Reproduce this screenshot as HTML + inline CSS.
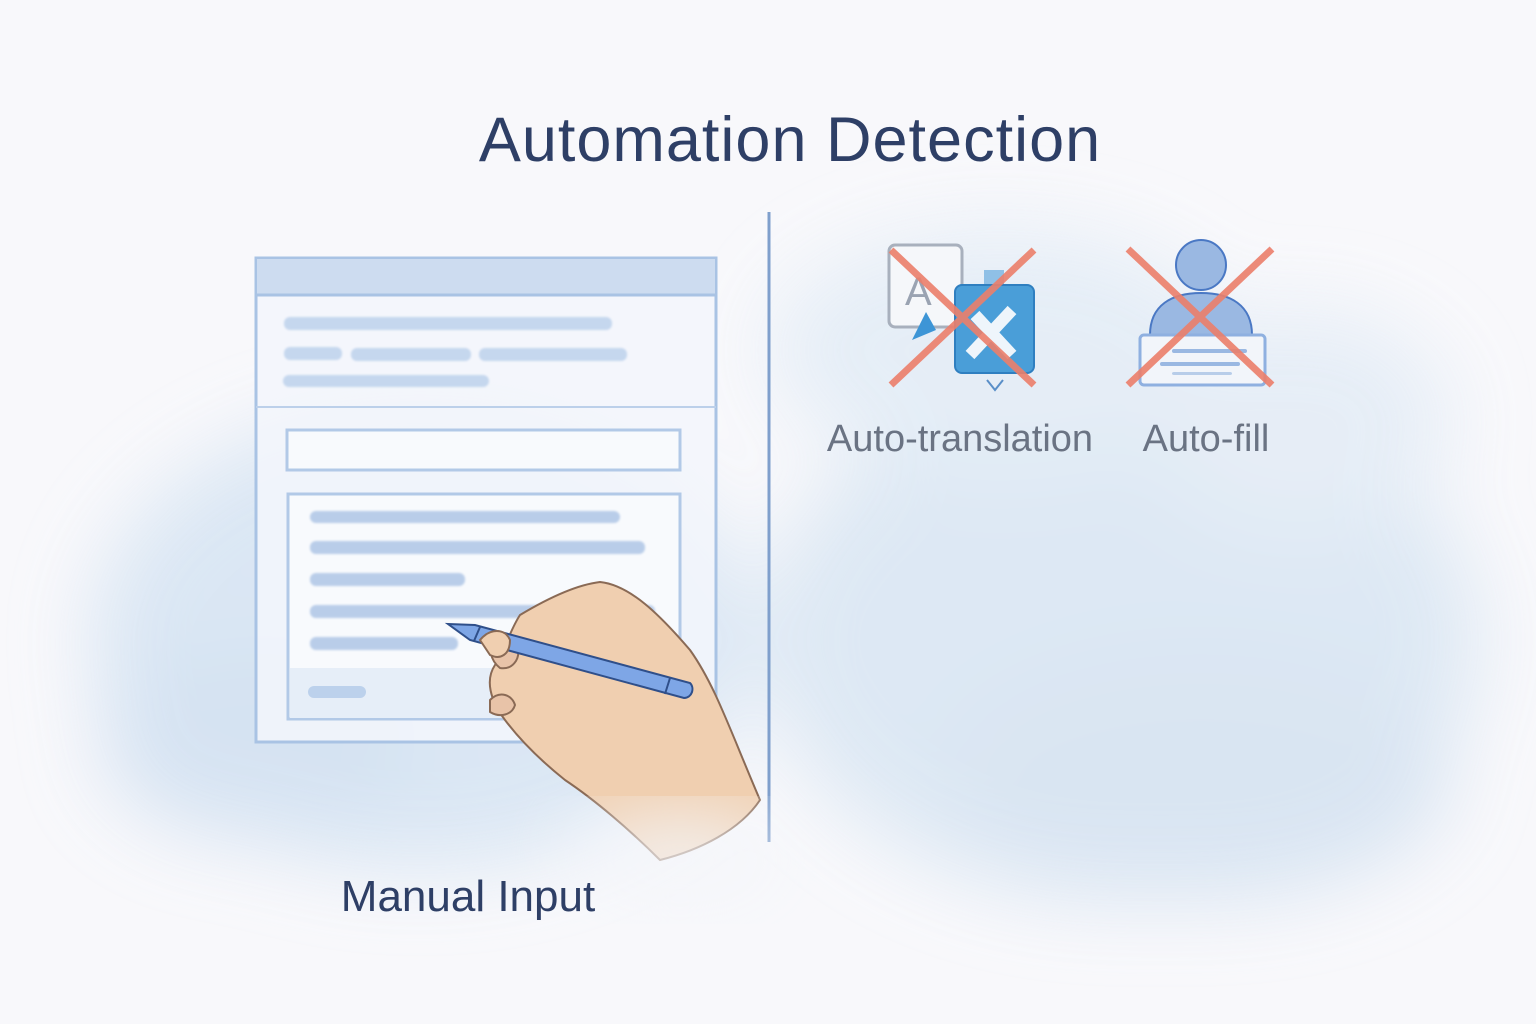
<!DOCTYPE html>
<html><head><meta charset="utf-8"><style>
html,body{margin:0;padding:0;width:1536px;height:1024px;overflow:hidden;background:#f7f7fa}
svg{display:block}
text{font-family:"Liberation Sans","DejaVu Sans",sans-serif}
</style></head><body>
<svg width="1536" height="1024" viewBox="0 0 1536 1024" xmlns="http://www.w3.org/2000/svg">
<defs>
<filter id="blur40" x="-30%" y="-30%" width="160%" height="160%"><feGaussianBlur stdDeviation="40"/></filter>
<filter id="blur1"><feGaussianBlur stdDeviation="1"/></filter>
</defs>
<rect width="1536" height="1024" fill="#f8f8fb"/>
<g filter="url(#blur40)" opacity="0.85">
<ellipse cx="420" cy="640" rx="330" ry="230" fill="#d6e4f3"/>
<ellipse cx="1120" cy="640" rx="360" ry="260" fill="#d9e6f3"/>
<ellipse cx="1000" cy="350" rx="230" ry="120" fill="#e2ecf6"/>
<ellipse cx="1300" cy="420" rx="150" ry="110" fill="#e3ecf6"/>
<ellipse cx="260" cy="740" rx="160" ry="100" fill="#d0e0f1"/>
<ellipse cx="1200" cy="780" rx="250" ry="120" fill="#d4e2f1"/>
</g>
<text x="790" y="161" font-size="63" letter-spacing="1" fill="#2e3f66" text-anchor="middle">Automation Detection</text>
<line x1="769" y1="212" x2="769" y2="842" stroke="#7f9fcc" stroke-width="3"/>
<g>
<rect x="256" y="258" width="460" height="484" fill="#f3f6fb" fill-opacity="0.85" stroke="#a9c3e4" stroke-width="3"/>
<rect x="257" y="259" width="458" height="36" fill="#cddcf0"/>
<line x1="256" y1="295" x2="716" y2="295" stroke="#a9c3e4" stroke-width="3"/>
<line x1="256" y1="407" x2="716" y2="407" stroke="#bcd0ea" stroke-width="2"/>
<g fill="#c5d7ee" filter="url(#blur1)">
<rect x="284" y="317" width="328" height="13" rx="6"/>
<rect x="284" y="347" width="58" height="13" rx="6"/>
<rect x="351" y="348" width="120" height="13" rx="6"/>
<rect x="479" y="348" width="148" height="13" rx="6"/>
<rect x="283" y="375" width="206" height="12" rx="6"/>
</g>
<rect x="287" y="430" width="393" height="40" fill="#f8fafd" stroke="#b2c9e7" stroke-width="3"/>
<rect x="288" y="494" width="392" height="225" fill="#f8fafd" stroke="#b2c9e7" stroke-width="3"/>
<rect x="290" y="668" width="388" height="50" fill="#e6eef8"/>
<rect x="308" y="686" width="58" height="12" rx="6" fill="#bcd1ec"/>
<g fill="#b9cde9" filter="url(#blur1)">
<rect x="310" y="511" width="310" height="12" rx="6"/>
<rect x="310" y="541" width="335" height="13" rx="6"/>
<rect x="310" y="573" width="155" height="13" rx="6"/>
<rect x="310" y="605" width="345" height="13" rx="6"/>
<rect x="310" y="637" width="148" height="13" rx="6"/>
</g>
</g>
<g stroke="#8a6a55" stroke-width="2" stroke-linejoin="round">
<path d="M520 615 C545 600 575 585 600 582 C630 585 660 615 690 650 C715 685 730 730 760 800 C740 830 700 850 660 860 C630 830 595 800 565 780 C540 760 520 740 505 720 C490 700 485 680 495 665 C505 650 510 630 520 615 Z" fill="#f0cfb0"/>
<path d="M495 640 C505 630 515 635 518 648 C520 660 512 670 500 668 C490 660 488 648 495 640 Z" fill="#e8c3a8"/>
<path d="M490 700 C500 690 512 695 515 705 C512 715 500 718 490 712 Z" fill="#e8c3a8"/>
</g>
<g>
<path d="M448 624 L475 625 L690 683 C695 688 692 698 684 698 L470 640 Z" fill="#7ea6e6" stroke="#2f4f8a" stroke-width="2"/>
<line x1="670" y1="678" x2="665" y2="694" stroke="#2f4f8a" stroke-width="2"/>
<line x1="480" y1="627" x2="474" y2="641" stroke="#2f4f8a" stroke-width="2"/>
</g>
<path d="M480 640 C490 628 505 628 510 640 C510 655 500 660 490 655 Z" fill="#f0cfb0" stroke="#8a6a55" stroke-width="2"/>
<ellipse cx="680" cy="860" rx="110" ry="40" fill="#f4f6fa" filter="url(#blur40)"/>
<text x="468" y="911" font-size="44" fill="#2e3f66" text-anchor="middle">Manual Input</text>
<g>
<rect x="889" y="245" width="73" height="82" rx="6" fill="#f5f7fa" stroke="#a8b0bd" stroke-width="3"/>
<text x="905" y="305" font-size="40" fill="#9aa3b2">A</text>
<path d="M926 312 L912 340 L936 330 Z" fill="#3d95d6"/>
<rect x="984" y="270" width="20" height="20" fill="#8fc0e6"/>
<rect x="955" y="285" width="79" height="88" rx="7" fill="#4a9ed8" stroke="#2f7fc0" stroke-width="2"/>
<path d="M970 355 L1012 310 M975 315 L1012 355" stroke="#eef5fb" stroke-width="12"/>
<path d="M987 380 L995 390 L1003 380" stroke="#5a8fc8" stroke-width="2" fill="none"/>
<path d="M891 250 L1034 385 M1034 250 L891 385" stroke="#ec7f6b" stroke-width="7" opacity="0.9"/>
</g>
<g>
<circle cx="1201" cy="265" r="25" fill="#9ab8e2" stroke="#4a78c4" stroke-width="2"/>
<path d="M1150 335 C1150 305 1172 293 1201 293 C1230 293 1252 305 1252 335 Z" fill="#9ab8e2" stroke="#4a78c4" stroke-width="2"/>
<rect x="1140" y="335" width="125" height="50" rx="4" fill="#f2f5fa" stroke="#8fb0e0" stroke-width="3"/>
<rect x="1172" y="349" width="75" height="4" rx="2" fill="#9ab8e2"/>
<rect x="1160" y="362" width="80" height="4" rx="2" fill="#9ab8e2"/>
<rect x="1172" y="372" width="60" height="3" rx="2" fill="#b8cde9"/>
<path d="M1128 249 L1272 385 M1272 249 L1128 385" stroke="#ec7f6b" stroke-width="7" opacity="0.9"/>
</g>
<text x="960" y="451" font-size="38" fill="#6a7383" text-anchor="middle">Auto-translation</text>
<text x="1206" y="451" font-size="38" fill="#6a7383" text-anchor="middle">Auto-fill</text>
</svg>
</body></html>
